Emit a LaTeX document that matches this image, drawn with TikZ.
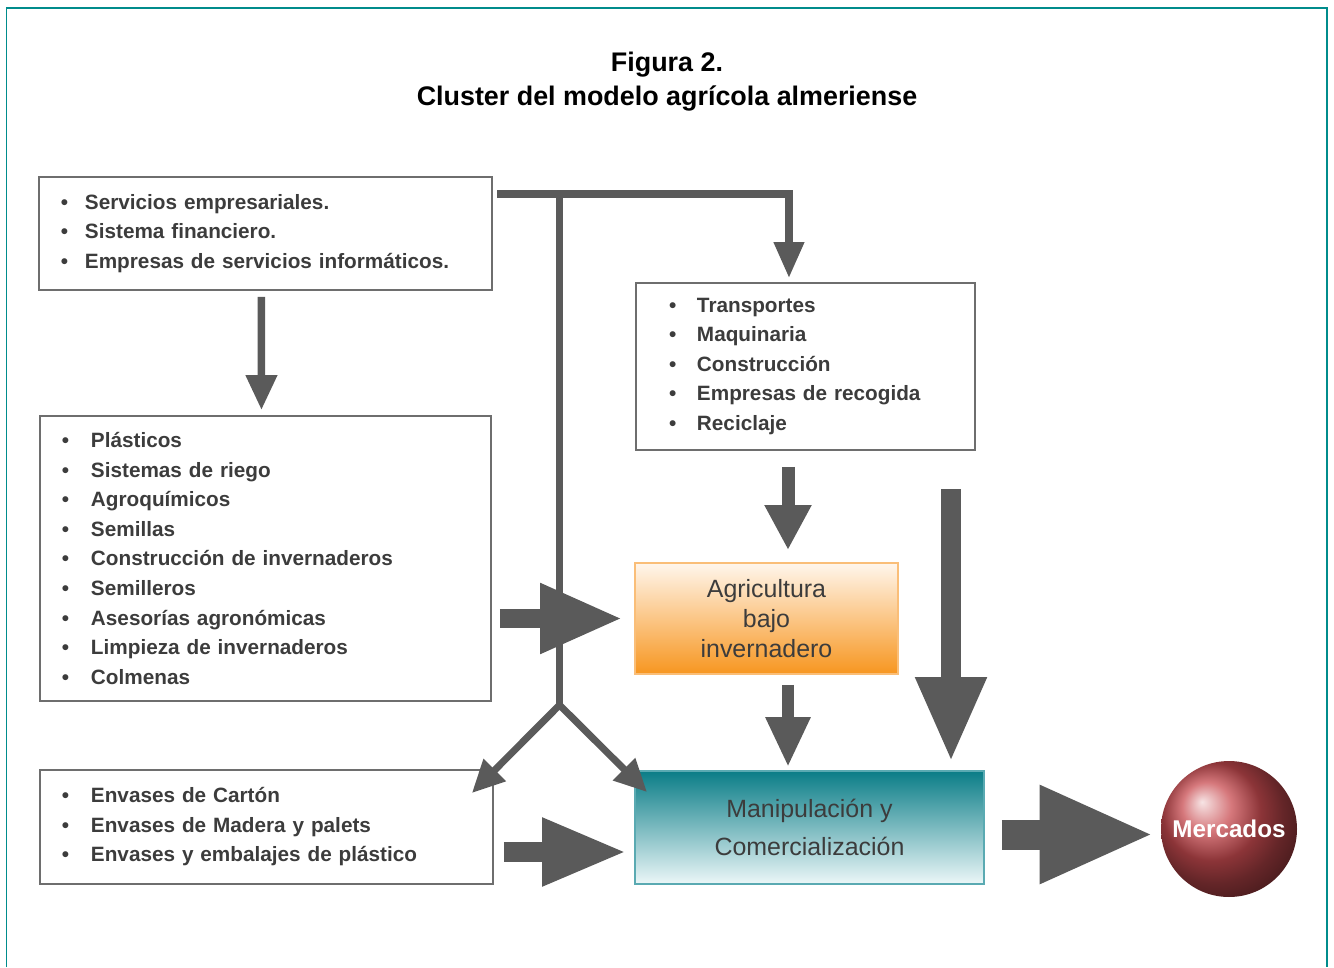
\documentclass[tikz,border=0pt]{standalone}
\usepackage{fontspec}
\setmainfont{Liberation Sans}
\usetikzlibrary{arrows.meta}

\definecolor{framecol}{RGB}{0,140,140}
\definecolor{boxgray}{RGB}{110,110,110}
\definecolor{arrowgray}{RGB}{90,90,90}
\definecolor{txtgray}{RGB}{60,60,60}
\definecolor{orangetop}{RGB}{255,246,236}
\definecolor{orangebot}{RGB}{247,150,32}
\definecolor{orangeline}{RGB}{250,190,120}
\definecolor{tealtop}{RGB}{10,125,135}
\definecolor{tealbot}{RGB}{236,247,248}
\definecolor{tealline}{RGB}{90,170,178}
\definecolor{ballred}{RGB}{200,75,80}

% bullet line for the lists
\newcommand\bul[2][0.56cm]{\makebox[#1][l]{\textbullet}#2}

\begin{document}
\begin{tikzpicture}[x=0.02cm,y=-0.02cm,
  listbox/.style={draw=boxgray, line width=0.04cm, anchor=north west, inner xsep=0.44cm,
    align=left, text=txtgray, font=\fontsize{11.8}{16.8}\selectfont\bfseries},
  gline/.style={draw=arrowgray, line width=0.15cm},
  bigbox/.style={anchor=north west, line width=0.04cm, align=center, text=txtgray}]
  \useasboundingbox (0,0) rectangle (1334,967);
  % frame
  \draw[framecol, line width=0.04cm] (6.5,967) -- (6.5,8) -- (1327,8) -- (1327,967);
  \node[align=center, font=\fontsize{15.3}{19.4}\selectfont\bfseries] (title) at (667,82)
    {Figura 2.\\Cluster del modelo agrícola almeriense};

  % boxes
  \node[listbox, minimum width=9.06cm, minimum height=2.26cm, text width=8.18cm] (serv) at (38,176)
    {\bul[0.48cm]{Servicios empresariales.}\\\bul[0.48cm]{Sistema financiero.}\\\bul[0.48cm]{Empresas de servicios informáticos.}};
  \node[listbox, minimum width=9.02cm, minimum height=5.70cm, text width=8.14cm] (plast) at (39,415)
    {\bul[0.58cm]{Plásticos}\\\bul[0.58cm]{Sistemas de riego}\\\bul[0.58cm]{Agroquímicos}\\
     \bul[0.58cm]{Semillas}\\\bul[0.58cm]{Construcción de invernaderos}\\\bul[0.58cm]{Semilleros}\\
     \bul[0.58cm]{Asesorías agronómicas}\\\bul[0.58cm]{Limpieza de invernaderos}\\\bul[0.58cm]{Colmenas}};
  \node[listbox, minimum width=9.06cm, minimum height=2.28cm, text width=8.18cm] (envas) at (39,769)
    {\bul[0.58cm]{Envases de Cartón}\\\bul[0.58cm]{Envases de Madera y palets}\\\bul[0.58cm]{Envases y embalajes de plástico}};
  \node[listbox, inner xsep=0.66cm, minimum width=6.78cm, minimum height=3.34cm, text width=5.46cm] (transp) at (635,282)
    {\bul{Transportes}\\\bul{Maquinaria}\\\bul{Construcción}\\\bul{Empresas de recogida}\\\bul{Reciclaje}};
  \node[bigbox, draw=orangeline, top color=orangetop, bottom color=orangebot,
    minimum width=5.26cm, minimum height=2.22cm, font=\fontsize{14.2}{17}\selectfont] (agri) at (634,562)
    {Agricultura\\bajo\\invernadero};
  \node[bigbox, draw=tealline, top color=tealtop, bottom color=tealbot,
    minimum width=6.98cm, minimum height=2.26cm, font=\fontsize{14.2}{21.6}\selectfont] (manip) at (634,770)
    {Manipulación y\\Comercialización};
  \node[circle, minimum size=2.72cm, shading=ball, ball color=ballred, text=white,
    font=\fontsize{13.8}{16}\selectfont\bfseries] (merc) at (1229,829) {Mercados};

  % connectors
  \coordinate (topstart) at (497,194);
  \coordinate (split) at (559.5,194);
  \coordinate (fork) at (559.5,705);
  \coordinate (midcol) at (788,0);
  \coordinate (rstart) at (951,489);
  \draw[gline, -{Triangle[length=0.72cm,width=0.58cm]}] (topstart) -| ([shift={(-16.5,-4)}]transp.north);
  \draw[gline, line width=0.14cm] (split) -- (fork);
  \draw[gline, line width=0.14cm, {Triangle[length=0.65cm,width=0.6cm]}-{Triangle[length=0.65cm,width=0.6cm]}]
    ([shift={(-22,24)}]envas.north east) -- (fork) -- ([shift={(13,22)}]manip.north west);
  \draw[gline, -{Triangle[length=0.7cm,width=0.6cm]}] ([shift={(-4,6)}]serv.south) -- ([shift={(-4,-5)}]plast.north);
  \draw[gline, line width=0.4cm, -{Triangle[length=1.66cm,width=1.3cm]}, shorten <=0.16cm, shorten >=0.22cm]
    (plast.east |- agri.west) -- (agri.west);
  \draw[gline, line width=0.4cm, -{Triangle[length=1.7cm,width=1.26cm]}, shorten <=0.2cm, shorten >=0.14cm]
    ([yshift=-0.5cm]envas.east) -- ([yshift=-0.5cm]envas.east -| manip.west);
  \draw[gline, line width=0.26cm, -{Triangle[length=0.9cm,width=0.88cm]}, shorten <=0.32cm, shorten >=0.24cm]
    (transp.south -| midcol) -- (agri.north -| midcol);
  \draw[gline, line width=0.24cm, -{Triangle[length=1.0cm,width=0.84cm]}, shorten <=0.2cm, shorten >=0.06cm]
    (agri.south -| midcol) -- (manip.north -| midcol);
  \draw[gline, line width=0.4cm, -{Triangle[length=1.7cm,width=1.32cm]}, shorten >=0.16cm]
    (rstart) -- (manip.north -| rstart);
  \draw[gline, line width=0.6cm, -{Triangle[length=2.3cm,width=1.8cm]}, shorten <=0.34cm, shorten >=0.12cm]
    ([yshift=-0.14cm]manip.east) -- ([yshift=-0.14cm]manip.east -| merc.west);
\end{tikzpicture}
\end{document}
